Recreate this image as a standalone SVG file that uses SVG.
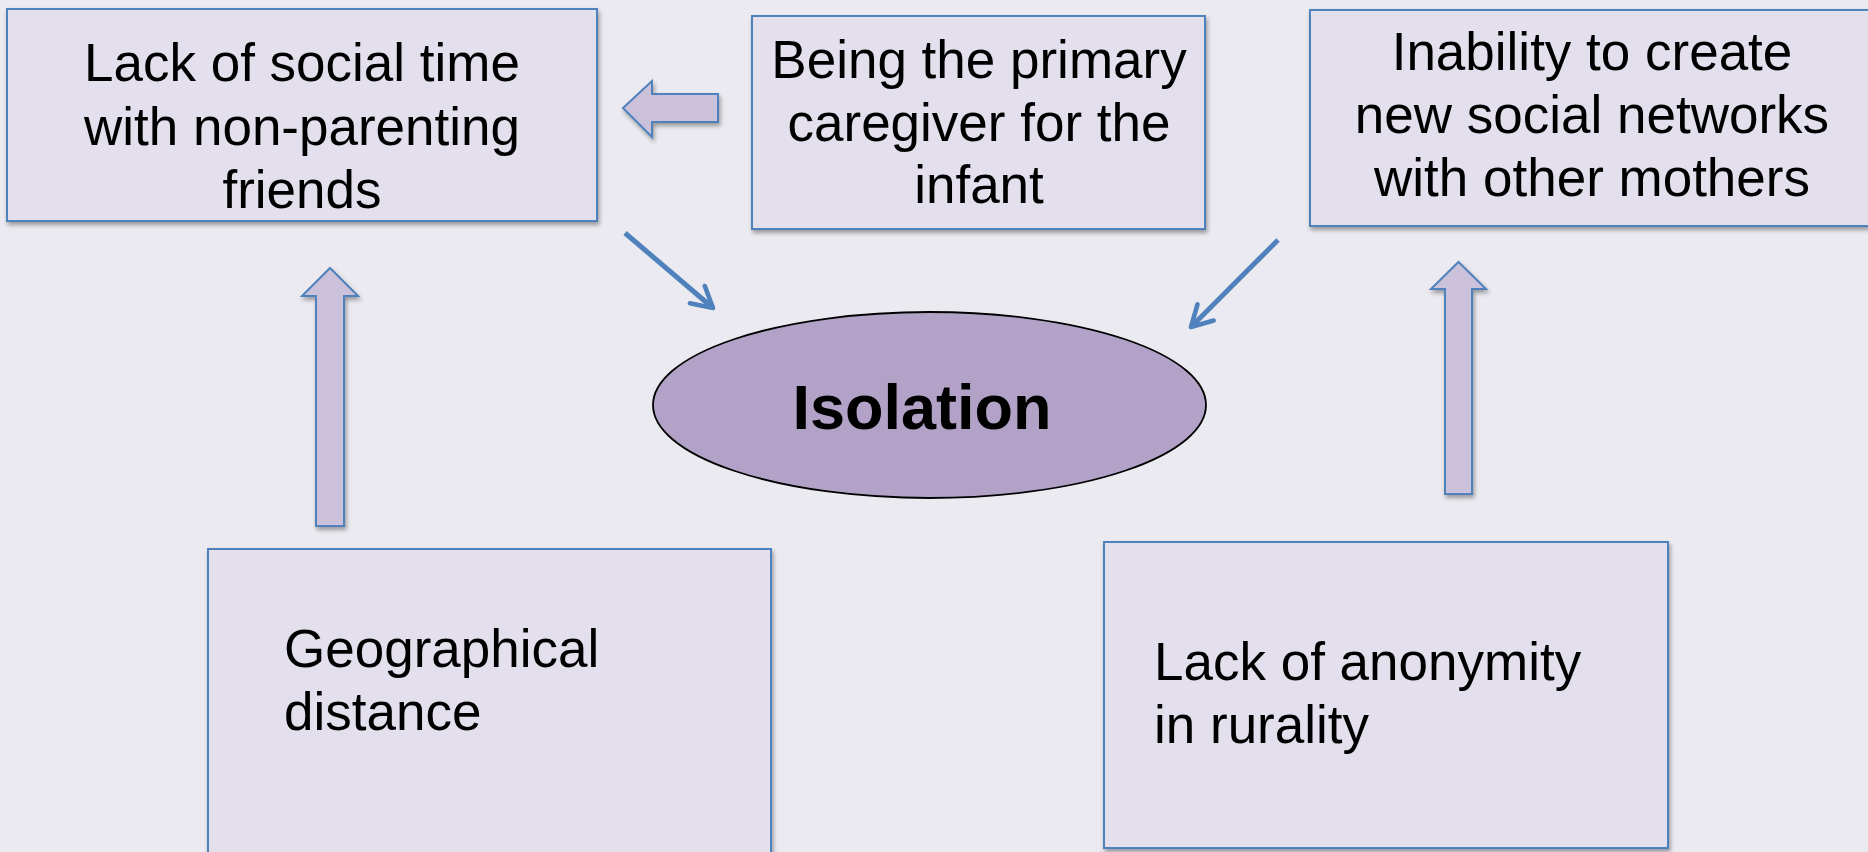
<svg xmlns="http://www.w3.org/2000/svg" width="1868" height="852" viewBox="0 0 1868 852">
<defs>
<filter id="sh" x="-10%" y="-10%" width="120%" height="130%">
<feDropShadow dx="1.5" dy="3" stdDeviation="2" flood-color="#000" flood-opacity="0.35"/>
</filter>
<marker id="ah" viewBox="0 0 12 12" refX="10" refY="6" markerWidth="5.5" markerHeight="5.5" markerUnits="strokeWidth" orient="auto">
<path d="M1,1 L10,6 L1,11" fill="none" stroke="#4F81BD" stroke-width="2" stroke-linecap="round" stroke-linejoin="round"/>
</marker>
<style>
.box{fill:#E4DFEC;stroke:#4F81BD;stroke-width:2;filter:url(#sh)}
.blk{fill:#CCC1DA;stroke:#4F81BD;stroke-width:2;filter:url(#sh)}
.t{font-family:"Liberation Sans",Arial,sans-serif;font-size:53px;fill:#000}
.c{text-anchor:middle}
.con{stroke:#4F81BD;stroke-width:5;fill:none;marker-end:url(#ah)}
</style>
</defs>
<rect width="1868" height="852" fill="#EBEAF0"/>
<g id="node-lack-social-time">
<rect class="box" x="7" y="9" width="590" height="212"/>
<text class="t c" x="302" y="81">Lack of social time</text>
<text class="t c" x="302" y="145">with non-parenting</text>
<text class="t c" x="302" y="208">friends</text>
</g>
<g id="node-primary-caregiver">
<rect class="box" x="752" y="16" width="453" height="213"/>
<text class="t c" x="979" y="78">Being the primary</text>
<text class="t c" x="979" y="141">caregiver for the</text>
<text class="t c" x="979" y="203">infant</text>
</g>
<g id="node-inability">
<rect class="box" x="1310" y="10" width="570" height="216"/>
<text class="t c" x="1592" y="70">Inability to create</text>
<text class="t c" x="1592" y="133">new social networks</text>
<text class="t c" x="1592" y="196">with other mothers</text>
</g>
<g id="node-isolation">
<ellipse cx="929.5" cy="405" rx="276.5" ry="93" fill="#B2A2C7" stroke="#000" stroke-width="1.8"/>
<text class="t c" x="922" y="429" style="font-size:63px;font-weight:bold">Isolation</text>
</g>
<g id="node-geographical">
<rect class="box" x="208" y="549" width="563" height="320"/>
<text class="t" x="284" y="667">Geographical</text>
<text class="t" x="284" y="730">distance</text>
</g>
<g id="node-anonymity">
<rect class="box" x="1104" y="542" width="564" height="306"/>
<text class="t" x="1154" y="680">Lack of anonymity</text>
<text class="t" x="1154" y="743">in rurality</text>
</g>
<g id="connectors">
<polygon class="blk" points="623,108 652,81 652,94 718,94 718,122 652,122 652,137"/>
<polygon class="blk" points="330,268 358,296 344,296 344,526 316,526 316,296 302,296"/>
<polygon class="blk" points="1458.5,262 1486,289 1472,289 1472,494 1445,494 1445,289 1431,289"/>
<line class="con" x1="625" y1="233" x2="713" y2="308"/>
<line class="con" x1="1278" y1="240" x2="1191" y2="327"/>
</g>
</svg>
